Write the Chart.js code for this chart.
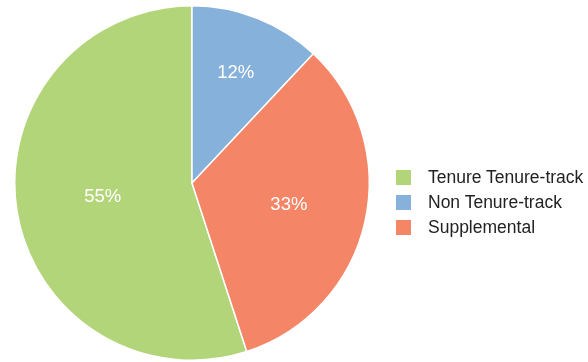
<!DOCTYPE html>
<html>
<head>
<meta charset="utf-8">
<script src="https://cdn.jsdelivr.net/npm/chart.js@4"></script>
<style>
  body { margin: 0; background: #fff; }
  #wrap { position: relative; width: 588px; height: 362px; }
  #legend { position: absolute; left: 396px; top: 165px; font-family: "Liberation Sans", Arial, sans-serif; font-size: 17.5px; color: #222; }
  .item { display: flex; align-items: center; height: 25px; }
  .box { width: 15px; height: 15px; margin-right: 17px; }
</style>
</head>
<body>
<div id="wrap">
  <canvas id="pie" width="588" height="362"></canvas>
  <div id="legend"></div>
</div>
<script>
const categories = ['Tenure Tenure-track', 'Non Tenure-track', 'Supplemental'];
const shares = [55, 12, 33];
const colors = ['#b3d57a', '#86b1da', '#f48566'];
const labelRadius = [0.51, 0.67, 0.56];

const pctLabels = {
    id: 'pctLabels',
    afterDatasetsDraw(chart) {
        const ctx = chart.ctx;
        const meta = chart.getDatasetMeta(0);
        ctx.save();
        ctx.fillStyle = '#ffffff';
        ctx.font = '18.5px "Liberation Sans", Arial, sans-serif';
        ctx.textAlign = 'center';
        ctx.textBaseline = 'middle';
        meta.data.forEach(function (arc, i) {
            const mid = (arc.startAngle + arc.endAngle) / 2;
            const r = arc.outerRadius * labelRadius[i];
            ctx.fillText(shares[i] + '%', arc.x + Math.cos(mid) * r, arc.y + Math.sin(mid) * r);
        });
        ctx.restore();
    }
};

new Chart(document.getElementById('pie').getContext('2d'), {
    type: 'pie',
    data: {
        labels: categories,
        datasets: [{
            data: shares,
            backgroundColor: colors,
            borderColor: '#ffffff',
            borderWidth: 1.5
        }]
    },
    options: {
        responsive: false,
        animation: false,
        rotation: 162,
        layout: { padding: { left: 14, top: 5, bottom: 1, right: 218 } },
        plugins: {
            legend: { display: false },
            tooltip: { enabled: false }
        }
    },
    plugins: [pctLabels]
});

const legend = document.getElementById('legend');
categories.forEach(function (name, i) {
    const row = document.createElement('div');
    row.className = 'item';
    row.innerHTML = '<span class="box" style="background:' + colors[i] + '"></span><span>' + name + '</span>';
    legend.appendChild(row);
});
</script>
</body>
</html>
